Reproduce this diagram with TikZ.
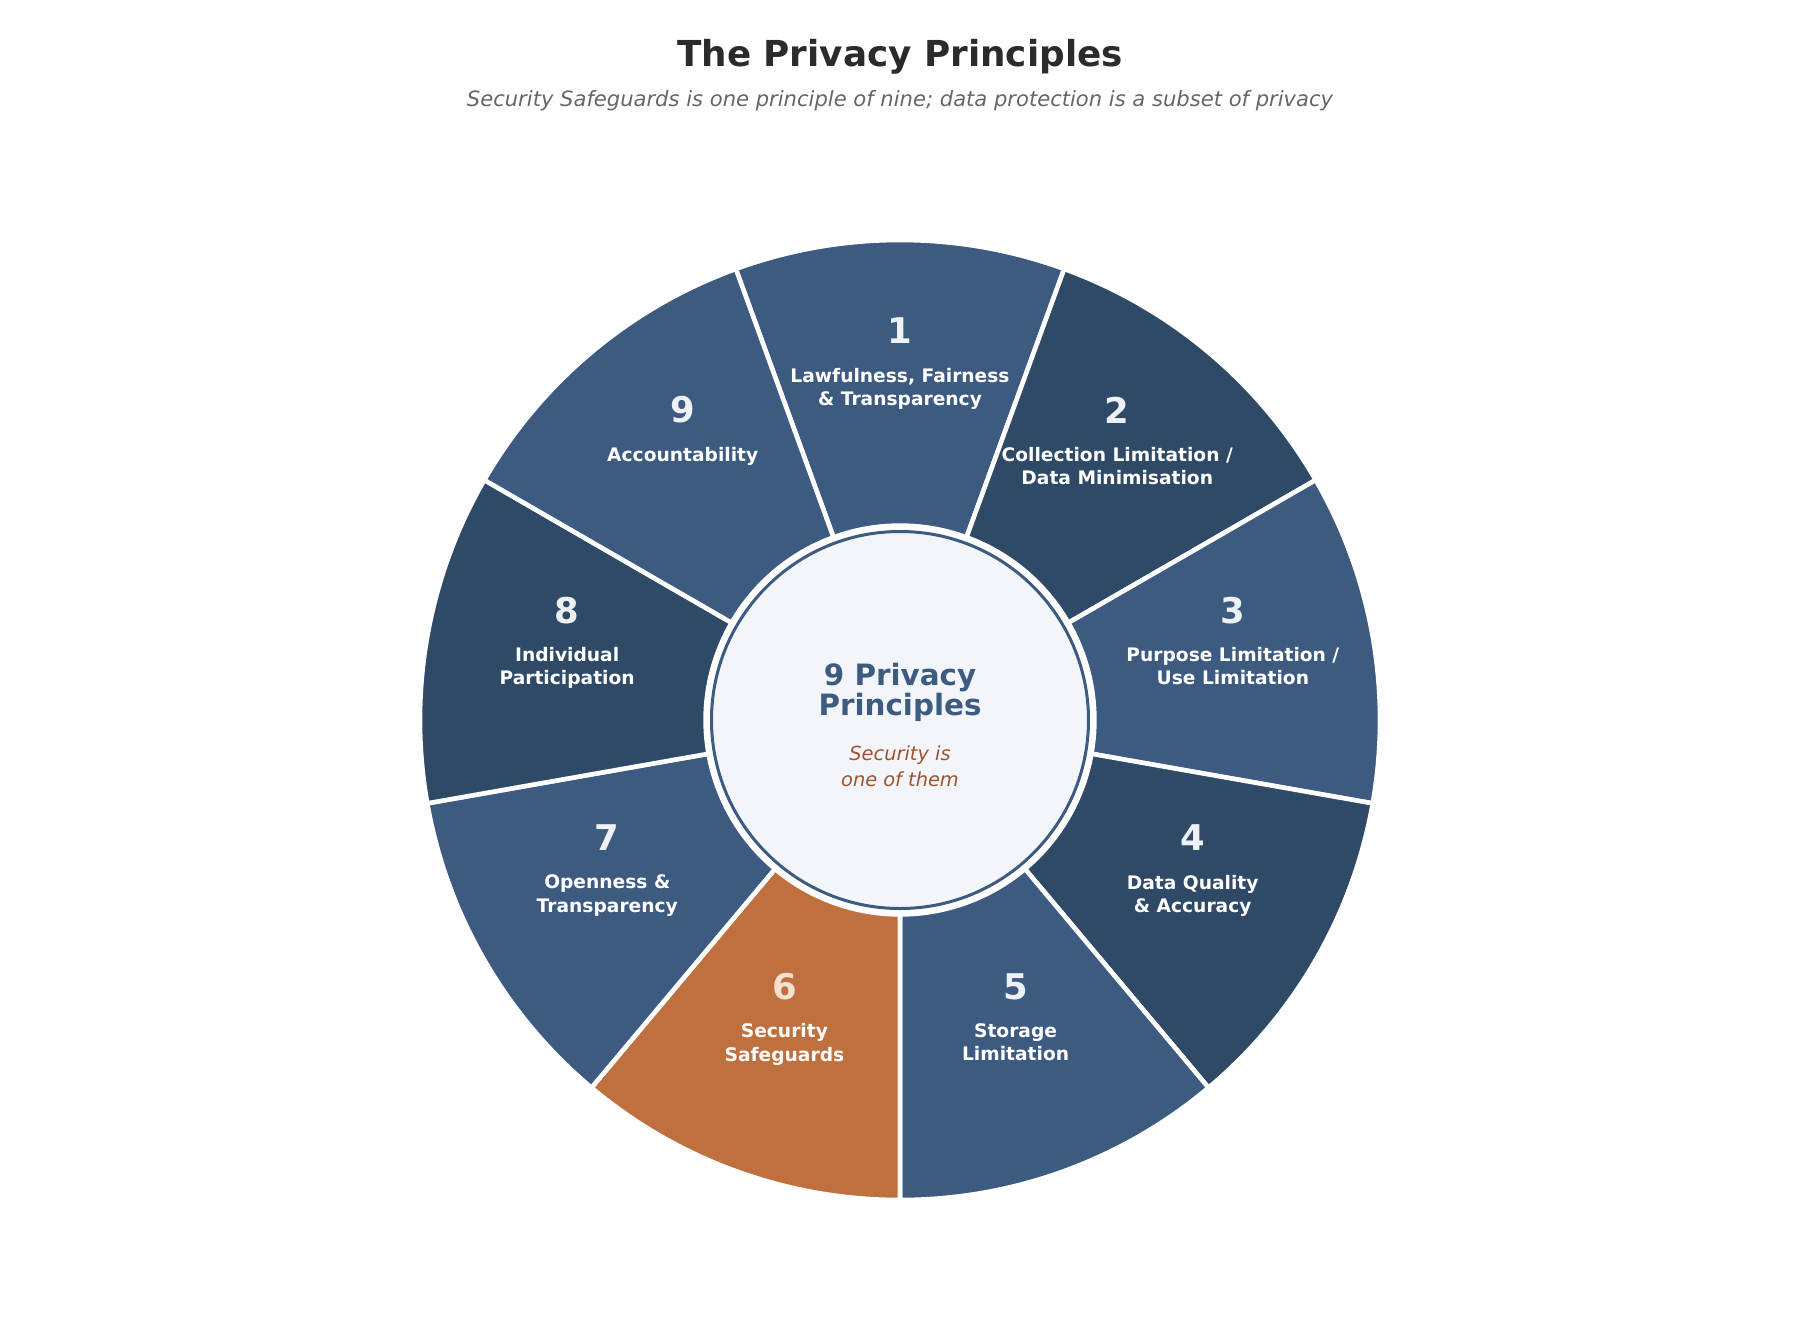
\documentclass[tikz,border=0pt]{standalone}
\usepackage{fontspec}
\setmainfont{DejaVu Sans}
\definecolor{midblue}{HTML}{3D5A80}
\definecolor{deepblue}{HTML}{2E4A66}
\definecolor{rust}{HTML}{C0703F}
\definecolor{hubfill}{HTML}{F2F6FB}
\definecolor{hubnote}{HTML}{A0522D}
\definecolor{inkgray}{HTML}{2B2B2B}
\definecolor{notegray}{HTML}{666666}
\definecolor{numblue}{HTML}{EEF2F7}
\definecolor{numrust}{HTML}{F6E0D0}
\tikzset{
  wedge/.style={draw=white,line width=2.2pt,line join=miter},
  numlabel/.style={font=\fontsize{17}{20}\selectfont\bfseries},
  namelabel/.style={font=\fontsize{8.95}{11.2}\selectfont\bfseries,text=white,align=center,anchor=north,inner sep=0pt},
}
\begin{document}
\begin{tikzpicture}[x=0.48pt,y=0.48pt]
  \useasboundingbox (-900,-600) rectangle (900,720);
  % title and subtitle
  \node[font=\fontsize{17.17}{20}\selectfont\bfseries,text=inkgray] (title) at (0,663.7) {The Privacy Principles};
  \node[font=\fontsize{10.12}{12}\selectfont\itshape,text=notegray] (subtitle) at (0,619.7) {Security Safeguards is one principle of nine; data protection is a subset of privacy};
  % nine wedges, clockwise from the top
  \foreach \k/\col/\numcol/\txt in {
      1/midblue/numblue/{Lawfulness, Fairness\\\& Transparency},
      2/deepblue/numblue/{Collection Limitation /\\Data Minimisation},
      3/midblue/numblue/{Purpose Limitation /\\Use Limitation},
      4/deepblue/numblue/{Data Quality\\\& Accuracy},
      5/midblue/numblue/{Storage\\Limitation},
      6/rust/numrust/{Security\\Safeguards},
      7/midblue/numblue/{Openness \&\\Transparency},
      8/deepblue/numblue/{Individual\\Participation},
      9/midblue/numblue/{Accountability}}{
    \pgfmathsetmacro\sa{150-40*\k}
    \pgfmathsetmacro\ea{\sa-40}
    \pgfmathsetmacro\ma{\sa-20}
    \draw[wedge,fill=\col] (\sa:194.4) -- (\sa:480) arc[start angle=\sa,end angle=\ea,radius=480]
      -- (\ea:194.4) arc[start angle=\ea,end angle=\sa,radius=194.4] -- cycle;
    % number above, name below
    \path (\ma:338) ++(0,51) node[numlabel,text=\numcol] (n\k) {\k};
    \path (\ma:338) ++(0,14.3) node[namelabel] (l\k) {\txt};
  }
  % hub
  \coordinate (hub) at (0,0);
  \draw[midblue,line width=1.44pt,fill=hubfill] (hub) circle[radius=188.5];
  \node[font=\fontsize{14.1}{14.4}\selectfont\bfseries,text=midblue,align=center] (hubtitle) at (0,28) {9 Privacy\\Principles};
  \node[font=\fontsize{9.3}{12.5}\selectfont\itshape,text=hubnote,align=center] (hubtext) at (0,-46) {Security is\\one of them};
\end{tikzpicture}
\end{document}
